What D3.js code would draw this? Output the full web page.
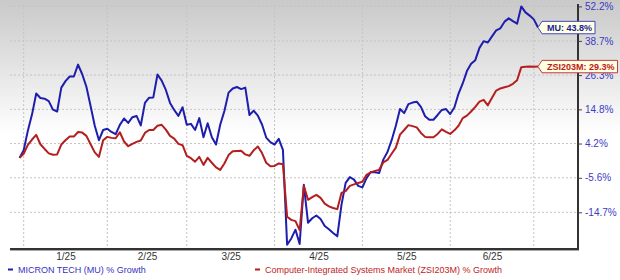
<!DOCTYPE html>
<html>
<head>
<meta charset="utf-8">
<script src="https://cdn.jsdelivr.net/npm/d3@7"></script>
<style>
  body { margin: 0; background: #fff; }
  text { font-family: Arial, "Liberation Sans", sans-serif; }
</style>
</head>
<body>
<div id="chart"></div>
<script>
// Trading-day index (0 = 12/31/24) of the first session of each month
let monthStarts = [1, 21, 40, 61, 82, 103, 123];
let monthLabels = ['1/25', '2/25', '3/25', '4/25', '5/25', '6/25'];
let yTicks = [52.2, 38.7, 26.3, 14.8, 4.2, -5.6, -14.7];

// % growth, one value per trading day
let muGrowth = [
    0.0, 2.2, 8.1, 13.2, 20.0, 18.5, 18.3, 17.5, 14.7, 14.1,
    22.0, 24.2, 25.8, 25.8, 30.0, 26.6, 22.3, 15.9, 9.6, 5.2,
    8.3, 8.7, 7.7, 7.0, 9.9, 11.9, 10.5, 12.3, 12.7, 9.7,
    16.9, 18.6, 18.7, 26.5, 24.4, 21.2, 16.9, 14.6, 12.7, 15.5,
    9.9, 10.2, 8.3, 12.0, 6.1, 10.4, 6.1, 3.9, 9.9, 14.3,
    20.3, 21.7, 22.2, 21.5, 22.0, 13.0, 14.4, 12.8, 10.0, 6.0,
    4.6, 3.9, 5.6, 2.3, -22.6, -21.1, -19.0, -22.4, -7.5, -17.3,
    -16.2, -15.5, -16.4, -18.1, -18.9, -19.8, -20.6, -12.8, -7.0, -5.4,
    -6.1, -7.8, -8.2, -5.7, -4.0, -4.1, -4.3, -0.5, 1.7, 5.2,
    9.6, 14.9, 13.6, 16.5, 17.0, 17.3, 15.6, 12.6, 11.5, 11.5,
    13.0, 14.6, 14.9, 13.3, 15.4, 20.0, 23.4, 27.7, 30.3, 31.6,
    36.1, 38.6, 38.1, 40.4, 42.7, 43.5, 46.1, 47.4, 46.3, 45.3,
    52.2, 49.8, 48.5, 47.0, 43.8
];
let zsiGrowth = [
    0.0, 1.2, 3.8, 5.4, 6.8, 4.0, 2.6, 1.3, 0.9, 1.0,
    3.9, 5.2, 6.3, 6.3, 7.7, 7.5, 6.5, 4.0, 1.6, 0.3,
    5.2, 6.2, 5.9, 5.8, 7.6, 4.8, 3.4, 4.1, 4.7, 5.1,
    7.4, 8.3, 8.3, 9.6, 9.9, 8.4, 6.5, 5.7, 4.1, 3.7,
    0.6, -0.1, -1.1, 0.3, -2.0, 0.0, -1.4, -2.7, -3.4, -1.6,
    0.8, 1.9, 2.0, 2.1, 1.0, 0.6, 2.2, 3.3, 1.4, -1.4,
    -2.4, -2.3, -1.6, -1.8, -15.8, -16.6, -16.9, -19.1, -7.8, -11.5,
    -10.8, -10.2, -11.0, -12.5, -13.2, -13.6, -13.9, -9.7, -9.2, -7.8,
    -7.4, -7.0, -6.7, -4.8, -4.1, -3.7, -3.4, -1.3, -0.6, 1.2,
    3.0, 6.9, 8.3, 9.8, 9.5, 9.1, 7.4, 6.2, 6.1, 6.1,
    7.1, 8.5, 7.7, 7.1, 8.2, 9.6, 12.0, 12.8, 14.1, 15.6,
    17.3, 17.9, 16.1, 18.6, 21.0, 21.7, 22.1, 22.5, 23.3, 24.5,
    29.1, 29.2, 29.3, 29.2, 29.3
];

let seriesNames = ['MICRON TECH (MU) % Growth', 'Computer-Integrated Systems Market (ZSI203M) % Growth'];
let endTags = ['MU', 'ZSI203M'];
let lineColors = ['#1e1eae', '#b41e1e'];
let textColors = ['#3434bc', '#c02424'];

let width = 620, height = 280;
let plot = { left: 10, right: 578, top: 4, bottom: 249 };

// x: trading-day index
let x = d3.scaleLinear().domain([0, 124]).range([19.5, 538]);
// y: compressed growth axis (behaves almost like a log axis)
let y = d3.scalePow().exponent(0.18)
    .domain([1 + d3.min(yTicks) / 100, 1 + d3.max(yTicks) / 100])
    .range([212.3, 6.4]);
let yg = function (g) { return y(1 + g / 100); };

let svg = d3.select('#chart').append('svg')
    .attr('width', width)
    .attr('height', height);

// grey fade at the top
let grad = svg.append('defs').append('linearGradient')
    .attr('id', 'bg').attr('x1', 0).attr('y1', 0).attr('x2', 0).attr('y2', 1);
grad.append('stop').attr('offset', 0).attr('stop-color', '#c9c9c9');
grad.append('stop').attr('offset', 1).attr('stop-color', '#ffffff');
svg.append('rect')
    .attr('x', 0).attr('y', 0)
    .attr('width', width).attr('height', 135)
    .attr('fill', 'url(#bg)');

// grid
svg.append('g').selectAll('line')
    .data(yTicks)
    .join('line')
    .attr('x1', plot.left).attr('x2', plot.right)
    .attr('y1', d => yg(d)).attr('y2', d => yg(d))
    .attr('stroke', '#c4c4c4')
    .attr('stroke-dasharray', '2,2');

svg.append('g').selectAll('line')
    .data(monthStarts)
    .join('line')
    .attr('x1', d => x(d)).attr('x2', d => x(d))
    .attr('y1', plot.top).attr('y2', plot.bottom)
    .attr('stroke', '#c4c4c4')
    .attr('stroke-dasharray', '2,2');

// series lines
let line = d3.line()
    .x(function (d, i) { return x(i); })
    .y(function (d) { return yg(d); });

[muGrowth, zsiGrowth].forEach(function (s, k) {
    svg.append('path')
        .datum(s)
        .attr('fill', 'none')
        .attr('stroke', lineColors[k])
        .attr('stroke-width', 2)
        .attr('stroke-linejoin', 'round')
        .attr('d', line);
});

// right axis
let yAxis = svg.append('g')
    .attr('transform', 'translate(' + plot.right + ',0)')
    .call(d3.axisRight(y)
        .tickValues(yTicks.map(v => 1 + v / 100))
        .tickSize(4)
        .tickPadding(3)
        .tickFormat(d => ((d - 1) * 100).toFixed(1) + '%'));
yAxis.select('.domain').remove();
yAxis.selectAll('.tick line').attr('stroke', '#444');
yAxis.selectAll('.tick text')
    .attr('fill', '#3b3bc4')
    .style('font-size', '10px')
    .style('font-family', 'Arial, "Liberation Sans", sans-serif');

svg.append('line')
    .attr('x1', plot.right).attr('x2', plot.right)
    .attr('y1', plot.top).attr('y2', plot.bottom + 1)
    .attr('stroke', '#333').attr('stroke-width', 2);

// bottom axis
svg.append('line')
    .attr('x1', plot.left).attr('x2', plot.right + 1)
    .attr('y1', plot.bottom + 1.5).attr('y2', plot.bottom + 1.5)
    .attr('stroke', '#aaa').attr('stroke-width', 1);
svg.append('line')
    .attr('x1', plot.left).attr('x2', plot.right + 1)
    .attr('y1', plot.bottom).attr('y2', plot.bottom)
    .attr('stroke', '#333').attr('stroke-width', 2);

let mids = monthLabels.map((m, i) => (monthStarts[i] + monthStarts[i + 1]) / 2);
let xAxis = svg.append('g')
    .attr('transform', 'translate(0,' + plot.bottom + ')')
    .call(d3.axisBottom(x)
        .tickValues(mids)
        .tickSize(0)
        .tickPadding(4)
        .tickFormat((d, i) => monthLabels[i]));
xAxis.select('.domain').remove();
xAxis.selectAll('.tick text')
    .attr('fill', '#333')
    .style('font-size', '10px')
    .style('font-family', 'Arial, "Liberation Sans", sans-serif');

// end tags
[muGrowth, zsiGrowth].forEach(function (s, k) {
    let last = s[s.length - 1];
    let g = svg.append('g')
        .attr('transform', 'translate(' + x(s.length - 1) + ',' + yg(last) + ')');
    let path = g.append('path');
    let t = g.append('text')
        .attr('x', 9)
        .attr('y', 3.2)
        .attr('fill', k === 0 ? '#1c1c96' : '#c01818')
        .style('font-size', '9px')
        .style('font-weight', 'bold')
        .text(endTags[k] + ': ' + last.toFixed(1) + '%');
    let w = 9 + t.node().getComputedTextLength() + 3;
    let h = 6.2;
    path.attr('d', 'M0,0L4,' + (-h) + 'H' + w + 'V' + h + 'H4Z')
        .attr('fill', '#ffffe3')
        .attr('stroke', k === 0 ? '#4646c0' : '#c43a3a')
        .attr('stroke-width', 1);
});

// legend
let legendX = [8, 255];
seriesNames.forEach(function (name, k) {
    svg.append('line')
        .attr('x1', legendX[k]).attr('x2', legendX[k] + 5)
        .attr('y1', 269.5).attr('y2', 269.5)
        .attr('stroke', lineColors[k]).attr('stroke-width', 2);
    svg.append('text')
        .attr('x', legendX[k] + 10)
        .attr('y', 273)
        .attr('fill', textColors[k])
        .style('font-size', '9px')
        .text(name);
});
</script>
</body>
</html>
